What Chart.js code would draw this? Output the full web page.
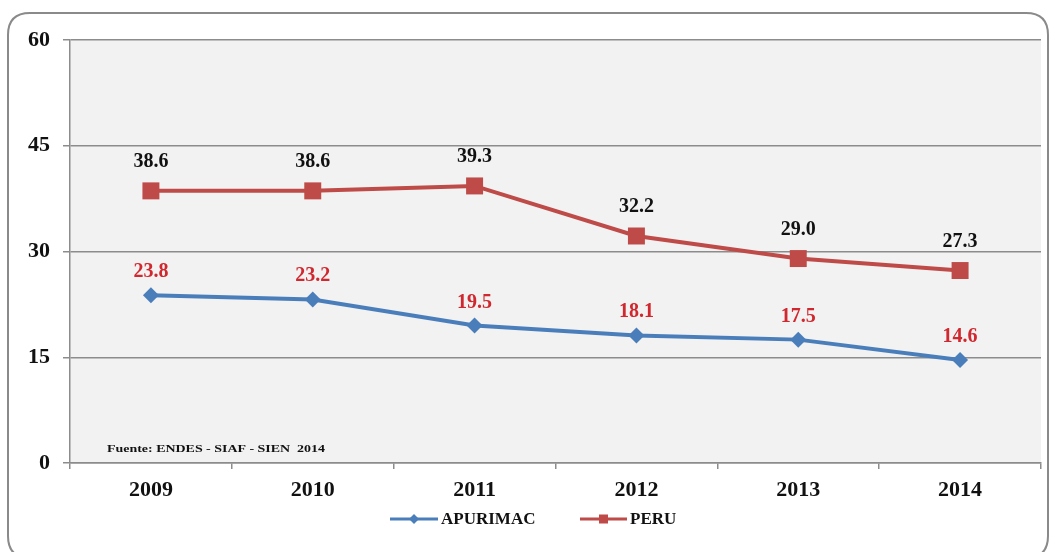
<!DOCTYPE html>
<html>
<head>
<meta charset="utf-8">
<script src="https://cdn.jsdelivr.net/npm/chart.js@4.4.1/dist/chart.umd.min.js"></script>
<style>
html,body{margin:0;padding:0;background:#fff;}
#wrap{width:1053px;height:552px;position:relative;}
</style>
</head>
<body>
<div id="wrap"><canvas id="c" width="1053" height="552"></canvas></div>
<script>
const categories = ['2009','2010','2011','2012','2013','2014'];
const apurimac = [23.8, 23.2, 19.5, 18.1, 17.5, 14.6];
const peru = [38.6, 38.6, 39.3, 32.2, 29.0, 27.3];
const yTicks = [0, 15, 30, 45, 60];
const sourceText = 'Fuente: ENDES - SIAF - SIEN  2014';

const BLUE = '#4a7ebb';
const RED = '#be4b48';
const SERIF = '"Liberation Serif", "Times New Roman", serif';

const framePlugin = {
  id: 'frame',
  beforeDraw(chart) {
    const ctx = chart.ctx, a = chart.chartArea;
    ctx.save();
    ctx.fillStyle = '#ffffff';
    ctx.fillRect(0, 0, chart.width, chart.height);
    // rounded outer frame
    const x = 8, y = 13, w = 1040, h = 545, r = 22;
    ctx.beginPath();
    ctx.moveTo(x + r, y);
    ctx.lineTo(x + w - r, y);
    ctx.quadraticCurveTo(x + w, y, x + w, y + r);
    ctx.lineTo(x + w, y + h - r);
    ctx.quadraticCurveTo(x + w, y + h, x + w - r, y + h);
    ctx.lineTo(x + r, y + h);
    ctx.quadraticCurveTo(x, y + h, x, y + h - r);
    ctx.lineTo(x, y + r);
    ctx.quadraticCurveTo(x, y, x + r, y);
    ctx.closePath();
    ctx.lineWidth = 2;
    ctx.strokeStyle = '#8a8a8a';
    ctx.stroke();
    // plot background
    ctx.fillStyle = '#f2f2f2';
    ctx.fillRect(a.left, a.top, a.right - a.left, a.bottom - a.top);
    ctx.restore();
  },
  afterDatasetsDraw(chart) {
    const ctx = chart.ctx, a = chart.chartArea;
    ctx.save();
    // data labels
    ctx.font = 'bold 20px ' + SERIF;
    ctx.textAlign = 'center';
    ctx.textBaseline = 'alphabetic';
    chart.data.datasets.forEach((ds, i) => {
      const meta = chart.getDatasetMeta(i);
      ctx.fillStyle = ds.labelColor;
      meta.data.forEach((pt, j) => {
        ctx.fillText(ds.data[j].toFixed(1), pt.x, pt.y - ds.labelOffset + 7);
      });
    });
    // source note
    ctx.font = 'bold 11px ' + SERIF;
    ctx.textAlign = 'left';
    ctx.textBaseline = 'middle';
    ctx.fillStyle = '#111';
    const tw = ctx.measureText(sourceText).width;
    ctx.translate(107, 449);
    ctx.scale(218 / tw, 1);
    ctx.fillText(sourceText, 0, 0);
    ctx.restore();

    // legend
    ctx.save();
    const ly = 519;
    const items = [
      {ds: chart.data.datasets[0], x0: 390, x1: 438},
      {ds: chart.data.datasets[1], x0: 580, x1: 627}
    ];
    ctx.font = 'bold 17px ' + SERIF;
    ctx.textBaseline = 'middle';
    ctx.textAlign = 'left';
    items.forEach(it => {
      ctx.strokeStyle = it.ds.borderColor;
      ctx.lineWidth = 3;
      ctx.beginPath();
      ctx.moveTo(it.x0, ly);
      ctx.lineTo(it.x1, ly);
      ctx.stroke();
      const cx = (it.x0 + it.x1) / 2;
      ctx.fillStyle = it.ds.borderColor;
      ctx.beginPath();
      if (it.ds.pointStyle === 'rectRot') {
        ctx.moveTo(cx, ly - 5); ctx.lineTo(cx + 5, ly); ctx.lineTo(cx, ly + 5); ctx.lineTo(cx - 5, ly);
      } else {
        ctx.rect(cx - 4.5, ly - 4.5, 9, 9);
      }
      ctx.closePath();
      ctx.fill();
      ctx.fillStyle = '#111';
      ctx.fillText(it.ds.label, it.x1 + 3, ly + 1);
    });
    ctx.restore();
  }
};

new Chart(document.getElementById('c'), {
  type: 'line',
  data: {
    labels: categories,
    datasets: [
      {
        label: 'APURIMAC',
        data: apurimac,
        borderColor: BLUE,
        backgroundColor: BLUE,
        borderWidth: 4,
        pointStyle: 'rectRot',
        pointRadius: 8,
        pointHoverRadius: 8,
        pointBorderWidth: 0,
        tension: 0,
        labelColor: '#d0282e',
        labelOffset: 25
      },
      {
        label: 'PERU',
        data: peru,
        borderColor: RED,
        backgroundColor: RED,
        borderWidth: 4,
        pointStyle: 'rect',
        pointRadius: 12,
        pointHoverRadius: 12,
        pointBorderWidth: 0,
        tension: 0,
        labelColor: '#111111',
        labelOffset: 31
      }
    ]
  },
  options: {
    responsive: false,
    animation: false,
    events: [],
    layout: {padding: {left: 0, right: 11, top: 40, bottom: 0}},
    plugins: {
      legend: {display: false},
      tooltip: {enabled: false}
    },
    scales: {
      x: {
        offset: true,
        afterFit(scale) { scale.height = 89; },
        grid: {display: true, drawOnChartArea: false, drawTicks: true, tickLength: 6, color: '#8c8c8c', lineWidth: 1.5, offset: true},
        border: {display: true, color: '#8c8c8c', width: 1.5},
        ticks: {font: {family: SERIF, size: 22, weight: 'bold'}, color: '#111', padding: 8, maxRotation: 0}
      },
      y: {
        min: 0, max: 60,
        afterFit(scale) { scale.width = 70; },
        afterBuildTicks(scale) { scale.ticks = yTicks.map(v => ({value: v})); },
        grid: {color: '#8c8c8c', lineWidth: 1.5, tickLength: 7, drawTicks: true},
        border: {display: true, color: '#8c8c8c', width: 1.5},
        ticks: {font: {family: SERIF, size: 22, weight: 'bold'}, color: '#111', padding: 13}
      }
    }
  },
  plugins: [framePlugin]
});
</script>
</body>
</html>
